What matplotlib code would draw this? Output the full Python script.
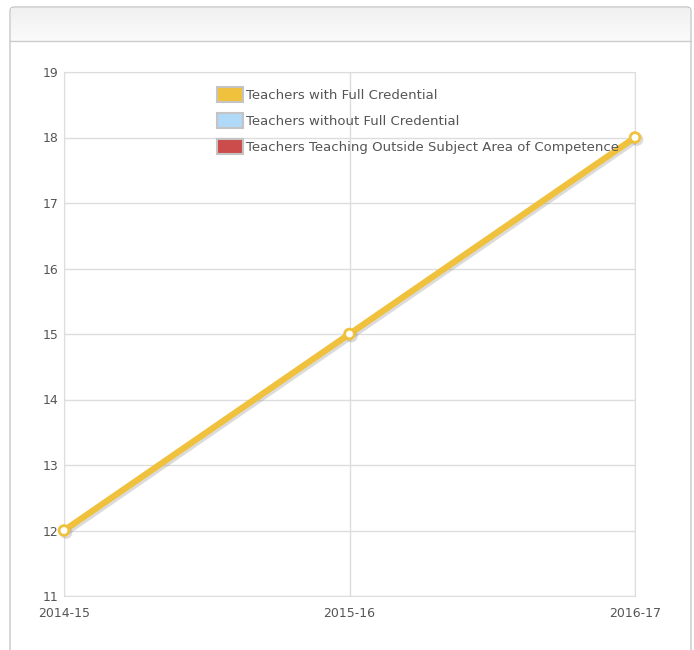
import numpy as np
import matplotlib.pyplot as plt
from matplotlib.patches import FancyBboxPatch, Patch
from matplotlib.colors import LinearSegmentedColormap
import matplotlib.patheffects as pe

# chart data
years = ["2014-15", "2015-16", "2016-17"]
full_credential = [12, 15, 18]
without_credential = []
outside_subject = []

series_names = ["Teachers with Full Credential",
                "Teachers without Full Credential",
                "Teachers Teaching Outside Subject Area of Competence"]
series_colors = ["#EFC13D", "#B0D8F7", "#CC4B4B"]

W, H = 694, 650
fig = plt.figure(figsize=(W / 100, H / 100), dpi=100)

# panel frame with a header band
panel = FancyBboxPatch((10 / W, -0.1), 681 / W, (H - 7) / H + 0.1,
                       boxstyle="round,pad=0,rounding_size=0.006",
                       transform=fig.transFigure, facecolor="white",
                       edgecolor="#c8c8c8", lw=1.0, zorder=-5)
fig.patches.append(panel)
grad = np.linspace(0, 1, 50).reshape(-1, 1)
hax = fig.add_axes([11 / W, 1 - 41 / H, 679 / W, 33 / H])
hax.imshow(grad, aspect="auto", extent=[0, 1, 0, 1],
           cmap=LinearSegmentedColormap.from_list("hdr", ["#f0f0f0", "#fbfbfb"]))
hax.axis("off")
fig.add_artist(plt.Line2D([10 / W, 691 / W], [1 - 41 / H, 1 - 41 / H],
                          transform=fig.transFigure, color="#cccccc", lw=1.0))

ax = fig.add_axes([64 / W, 1 - 596 / H, 571 / W, 524 / H])
ax.patch.set_alpha(0)
x = np.arange(len(years))
ax.plot(x, full_credential, color=series_colors[0], lw=4.5, solid_capstyle="round",
        marker="o", ms=7, mfc="white", mec=series_colors[0], mew=2, zorder=3,
        path_effects=[pe.SimpleLineShadow(offset=(1.5, -1.5), shadow_color="#999999", alpha=0.35),
                      pe.Normal()], clip_on=False)
ax.plot(x[:len(without_credential)], without_credential, color=series_colors[1])
ax.plot(x[:len(outside_subject)], outside_subject, color=series_colors[2])

ax.set_xlim(0, len(years) - 1)
ax.set_ylim(11, 19)
ax.set_xticks(x)
ax.set_xticklabels(years)
ax.set_yticks(range(11, 20))
ax.grid(True, color="#dddddd", lw=1)
ax.set_axisbelow(True)
for s in ax.spines.values():
    s.set_color("#dddddd")
ax.tick_params(length=0, colors="#555555", labelsize=9)
ax.tick_params(axis="x", pad=8)
ax.tick_params(axis="y", pad=4)

handles = [Patch(facecolor=c, edgecolor="#c4c4c4", lw=1.5) for c in series_colors]
leg = ax.legend(handles, series_names, loc="upper left", bbox_to_anchor=(148 / 571, 1 - 10 / 524),
                frameon=False, fontsize=9.5, labelcolor="#555555", handlelength=1.95,
                handleheight=1.35, handletextpad=0.25, labelspacing=0.85, borderaxespad=0)
leg.set_zorder(5)

fig.savefig("out.png", dpi=100)
